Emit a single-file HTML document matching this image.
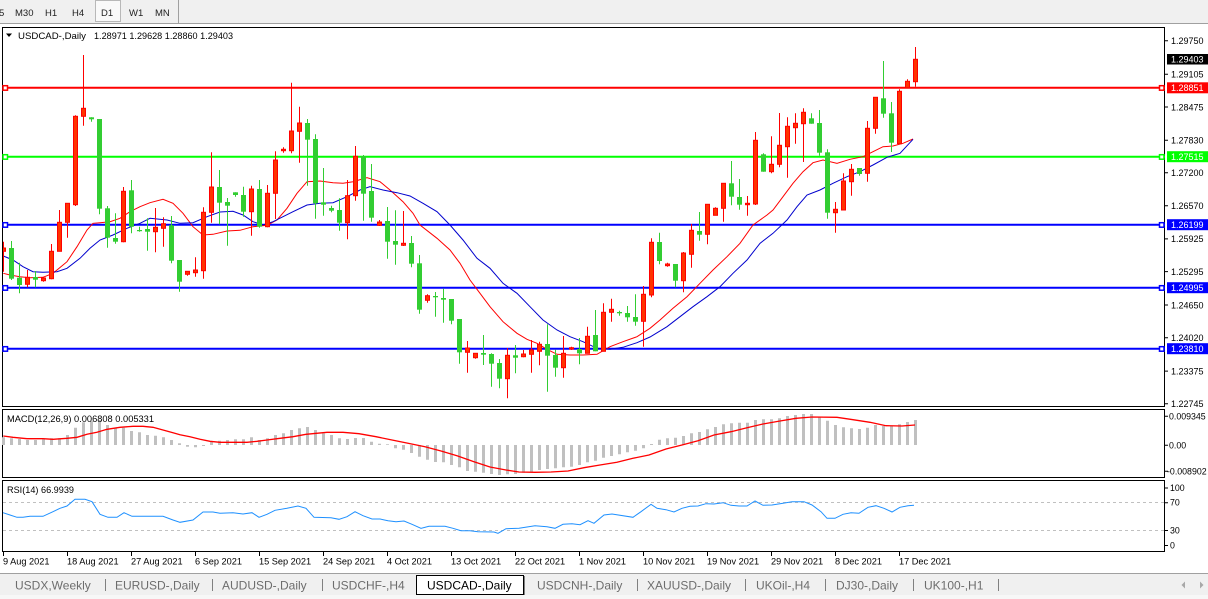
<!DOCTYPE html>
<html><head><meta charset="utf-8"><style>
html,body{margin:0;padding:0;background:#fff;width:1208px;height:599px;overflow:hidden}
svg{display:block;font-family:"Liberation Sans",Arial,sans-serif}
</style></head><body>
<svg width="1208" height="599" viewBox="0 0 1208 599" xmlns="http://www.w3.org/2000/svg">
<defs><clipPath id="cm"><rect x="3" y="28" width="1161" height="378"/></clipPath></defs>
<rect x="0" y="0" width="1208" height="599" fill="#fff"/>
<!-- toolbar -->
<rect x="0" y="0" width="1208" height="23" fill="#F0F0F0"/>
<line x1="0" y1="23.5" x2="1208" y2="23.5" stroke="#A0A0A0"/>
<rect x="95.5" y="0.5" width="25" height="21" fill="#F9F9F9" stroke="#B8B8B8"/>
<line x1="178.5" y1="0" x2="178.5" y2="23" stroke="#A0A0A0"/>
<g font-size="9.5" fill="#222">
<text x="-1" y="16">5</text><text x="15" y="16">M30</text><text x="45" y="16">H1</text><text x="72" y="16">H4</text><text x="101" y="16">D1</text><text x="129" y="16">W1</text><text x="155" y="16">MN</text>
</g>
<!-- frames -->
<rect x="2.5" y="27.5" width="1162" height="379" fill="none" stroke="#000"/>
<rect x="2.5" y="409.5" width="1162" height="68" fill="none" stroke="#000"/>
<rect x="2.5" y="480.5" width="1162" height="71" fill="none" stroke="#000"/>
<!-- header -->
<polygon points="6,33.5 12,33.5 9,37" fill="#000"/>
<text x="18" y="39" font-size="9.5" fill="#000" textLength="68" lengthAdjust="spacingAndGlyphs">USDCAD-,Daily</text>
<text x="94" y="39" font-size="9.5" fill="#000" textLength="139" lengthAdjust="spacingAndGlyphs">1.28971 1.29628 1.28860 1.29403</text>
<!-- horizontal lines -->
<g stroke-width="2">
<line x1="3" y1="87.7" x2="1165" y2="87.7" stroke="#FF0000"/>
<line x1="3" y1="156.7" x2="1165" y2="156.7" stroke="#00FF00"/>
<line x1="3" y1="224.7" x2="1165" y2="224.7" stroke="#0000FF"/>
<line x1="3" y1="287.7" x2="1165" y2="287.7" stroke="#0000FF"/>
<line x1="3" y1="348.7" x2="1165" y2="348.7" stroke="#0000FF"/>
</g>
<g fill="#fff" stroke-width="1.5">
<rect x="3" y="85.7" width="4.5" height="4.5" stroke="#FF0000"/><rect x="1159.5" y="85.7" width="4.5" height="4.5" stroke="#FF0000"/>
<rect x="3" y="154.7" width="4.5" height="4.5" stroke="#00FF00"/><rect x="1159.5" y="154.7" width="4.5" height="4.5" stroke="#00FF00"/>
<rect x="3" y="222.7" width="4.5" height="4.5" stroke="#0000FF"/><rect x="1159.5" y="222.7" width="4.5" height="4.5" stroke="#0000FF"/>
<rect x="3" y="285.7" width="4.5" height="4.5" stroke="#0000FF"/><rect x="1159.5" y="285.7" width="4.5" height="4.5" stroke="#0000FF"/>
<rect x="3" y="346.7" width="4.5" height="4.5" stroke="#0000FF"/><rect x="1159.5" y="346.7" width="4.5" height="4.5" stroke="#0000FF"/>
</g>
<g clip-path="url(#cm)">
<!-- MAs -->
<polyline fill="none" stroke="#FF0000" stroke-width="1" points="3.3,273.3 10,275 20,276.7 30,277.7 43,277.3 53,273.3 67,261.7 77,246.7 87,230 93,223.3 100,222.7 110,221.7 120,218.3 130,211.7 140,206.7 150,202.7 163,199.3 173,203.3 183,213.3 193,226.7 203,235 213,234.3 227,231 240,230.3 253,226.7 267,225.3 277,220 287,208.3 297,193.3 307,181.7 320,181 333,182.7 343,183.3 353,181.7 367,177.7 380,181.7 390,190 403,201.7 413,213.3 420,225 437,238.3 450,250 460,263.3 470,280 480,293.3 490,306.7 503,321.7 517,333.3 527,339.3 537,343.3 547,349.3 557,354.3 570,355 583,355 597,354.3 610,346.7 623,341.7 637,336.7 650,328.3 660,320 673,308.3 687,296.7 700,283.3 713,270 727,256.7 740,243.3 753,225 767,215 773,210 783,196.7 793,183.3 803,171.7 813,162.7 823,160 837,163.3 850,159.3 863,156.7 873,151.7 883,146.7 893,146 903,143.3 913,139"/>
<polyline fill="none" stroke="#0000CD" stroke-width="1" points="3.3,256 13,260 23,266.7 33,271.7 43,272.3 57,271.7 67,268.3 80,258.3 90,248.3 100,240 113,235 127,228.3 140,223.3 150,218.3 167,220 180,223.3 193,222.7 207,216.7 220,212 233,211.3 243,215 253,221.7 263,225 273,221.7 283,216.7 293,211.7 307,205 320,203.3 333,202.7 347,196.7 360,190 370,186.7 383,190 397,192.7 410,196 423,203.3 437,211.7 450,225 463,240 477,258.3 490,268.3 503,283.3 517,293.3 530,306.7 543,320 557,330 570,336.7 583,341.7 597,348.3 610,349.3 623,347.3 637,342.7 650,337 667,326.7 680,316.7 693,306.7 707,296.7 720,286.7 733,273.3 747,260 760,243.3 773,233.3 787,220 797,206.7 807,195 820,190 833,183.3 847,176.7 860,171.7 873,165 887,157.3 900,153.3 913,139.3"/>
<!-- red wicks -->
<path fill="none" stroke="#FF0000" stroke-width="1" d="M3.5 241.7V271.7M27.5 270V287.3M43.5 276.7V281.7M51.5 244V279.3M59.5 210V251.3M67.5 203.3V237.7M75.5 115.3V206M83.5 55V125.7M123.5 187V242.3M155.5 208V252.3M163.5 217.3V246.7M187.5 271.3V275.7M195.5 257.3V276.7M203.5 207.3V278.7M211.5 152.3V222.7M251.5 185.7V235.7M267.5 185V227.3M275.5 151.3V219M283.5 147.3V152.7M291.5 82.7V153.3M299.5 106.7V162.7M347.5 180V239.3M355.5 146V200.7M379.5 220V226M403.5 211V246M427.5 294.3V302.7M467.5 341V372.7M475.5 353.3V358.7M507.5 348V398.3M523.5 350V357.3M531.5 340V372.7M539.5 341.7V365.3M563.5 336V377.7M571.5 346.7V350M587.5 326.7V353.3M603.5 303.3V351.3M611.5 298.7V321.7M643.5 286V346.7M651.5 238.3V297.3M667.5 262.7V266.7M683.5 252V292.3M691.5 224V267.7M707.5 204.3V244.3M715.5 207.3V215.3M723.5 183.3V221.7M747.5 196V215.7M755.5 132V205M771.5 136.3V173.3M779.5 113V167.3M787.5 117.3V177.7M795.5 113.3V143.7M803.5 108.3V162M835.5 202V232.7M843.5 173.3V210M851.5 164V195.7M867.5 121V181.7M875.5 97.3V133.7M899.5 89.3V143.7M907.5 79.3V87.7M915.5 47V86.7"/>
<!-- green wicks -->
<path fill="none" stroke="#32CD32" stroke-width="1" d="M11.5 241V280M19.5 262.7V293.3M35.5 271V287.3M91.5 117.3V121.7M99.5 119V214.3M107.5 206V247.7M115.5 213.3V243.7M131.5 180V233.3M139.5 226.7V231.7M147.5 218.3V250.7M171.5 216V263.3M179.5 260V291.7M219.5 170V224.3M227.5 198V245.7M235.5 192.3V196.7M243.5 186.7V216.7M259.5 180V227.7M307.5 119V185.7M315.5 134.3V218.7M323.5 168V215.7M331.5 205.7V212.3M339.5 198.3V230.7M363.5 155V220.7M371.5 164V221.7M387.5 207V258.7M395.5 210.3V264.7M411.5 236V267.3M419.5 255V313.7M435.5 292V316.7M443.5 288.7V322.7M451.5 299V324.3M459.5 319V363.7M483.5 335V365M491.5 353.3V386.7M499.5 359V388.3M515.5 345V373.3M547.5 324.3V391.7M555.5 349.7V376.7M579.5 338V364.3M595.5 310V351.3M619.5 310.7V315.7M627.5 306V321.7M635.5 294.3V325.7M659.5 232.7V264.3M675.5 264V287.3M699.5 212V240.7M731.5 161V205.3M739.5 179V209.7M763.5 153.3V171.7M811.5 113.3V123.7M819.5 110V155.7M827.5 149.3V218.7M859.5 168V175.7M883.5 61V117.7M891.5 102V152"/>
<!-- red bodies -->
<g fill="#FF3300" stroke="#FF0000" stroke-width="1">
<rect x="1.5" y="248" width="4" height="3.3"/><rect x="25.5" y="277.3" width="4" height="7"/><rect x="41.5" y="278" width="4" height="2.7"/><rect x="49.5" y="251.3" width="4" height="27.4"/><rect x="57.5" y="222.3" width="4" height="29"/><rect x="65.5" y="203.3" width="4" height="19"/><rect x="73.5" y="116.3" width="4" height="88.4"/><rect x="81.5" y="108.3" width="4" height="8"/><rect x="121.5" y="191.3" width="4" height="50.4"/><rect x="153.5" y="227.3" width="4" height="4.4"/><rect x="161.5" y="223.7" width="4" height="4.6"/><rect x="185.5" y="271.3" width="4" height="3"/><rect x="193.5" y="270" width="4" height="2.7"/><rect x="201.5" y="212.3" width="4" height="58.4"/><rect x="209.5" y="187" width="4" height="25.3"/><rect x="249.5" y="189" width="4" height="22.7"/><rect x="265.5" y="193.3" width="4" height="33.4"/><rect x="273.5" y="160" width="4" height="33.3"/><rect x="281.5" y="149.3" width="4" height="1.4"/><rect x="289.5" y="131" width="4" height="19.7"/><rect x="297.5" y="123" width="4" height="8.3"/><rect x="345.5" y="195.7" width="4" height="27"/><rect x="353.5" y="156.3" width="4" height="39.4"/><rect x="377.5" y="222" width="4" height="3.3"/><rect x="401.5" y="243.3" width="4" height="2"/><rect x="425.5" y="295.7" width="4" height="4.6"/><rect x="465.5" y="348" width="4" height="4.3"/><rect x="473.5" y="353.3" width="4" height="4.4"/><rect x="505.5" y="355.3" width="4" height="23.4"/><rect x="521.5" y="354" width="4" height="2.7"/><rect x="529.5" y="350" width="4" height="4.3"/><rect x="537.5" y="344.3" width="4" height="7"/><rect x="561.5" y="353.3" width="4" height="14.4"/><rect x="569.5" y="347.7" width="4" height="1.3"/><rect x="585.5" y="336.3" width="4" height="17"/><rect x="601.5" y="312.3" width="4" height="39"/><rect x="609.5" y="309.3" width="4" height="3"/><rect x="641.5" y="294.3" width="4" height="27"/><rect x="649.5" y="242.3" width="4" height="52.7"/><rect x="665.5" y="264" width="4" height="1.7"/><rect x="681.5" y="253" width="4" height="27.7"/><rect x="689.5" y="230.3" width="4" height="24"/><rect x="705.5" y="204.3" width="4" height="30"/><rect x="713.5" y="208.3" width="4" height="7"/><rect x="721.5" y="183.3" width="4" height="25"/><rect x="745.5" y="203.3" width="4" height="1.4"/><rect x="753.5" y="140.3" width="4" height="63.7"/><rect x="769.5" y="164.3" width="4" height="7.4"/><rect x="777.5" y="145.3" width="4" height="19"/><rect x="785.5" y="126.3" width="4" height="20.4"/><rect x="793.5" y="123.3" width="4" height="4.4"/><rect x="801.5" y="112.3" width="4" height="11.4"/><rect x="833.5" y="209.3" width="4" height="3.4"/><rect x="841.5" y="181" width="4" height="29"/><rect x="849.5" y="169.3" width="4" height="12.4"/><rect x="865.5" y="128.3" width="4" height="45"/><rect x="873.5" y="97.3" width="4" height="31"/><rect x="897.5" y="91.3" width="4" height="52.4"/><rect x="905.5" y="81.3" width="4" height="6.4"/><rect x="913.5" y="59.3" width="4" height="22.4"/>
</g>
<!-- green bodies -->
<g fill="#32CD32">
<rect x="9" y="248" width="5" height="30.7"/><rect x="17" y="277.7" width="5" height="7.3"/><rect x="33" y="277" width="5" height="2.7"/><rect x="89" y="117.3" width="5" height="2"/><rect x="97" y="119" width="5" height="89.7"/><rect x="105" y="208.3" width="5" height="29.4"/><rect x="113" y="238" width="5" height="3.7"/><rect x="129" y="190.3" width="5" height="36.4"/><rect x="137" y="230" width="5" height="1.2"/><rect x="145" y="229" width="5" height="2.7"/><rect x="169" y="225.3" width="5" height="35.4"/><rect x="177" y="260" width="5" height="21.7"/><rect x="217" y="187" width="5" height="15.7"/><rect x="225" y="202" width="5" height="3.7"/><rect x="233" y="192.3" width="5" height="2.7"/><rect x="241" y="195" width="5" height="16.7"/><rect x="257" y="189" width="5" height="37.7"/><rect x="305" y="123" width="5" height="16.7"/><rect x="313" y="139" width="5" height="64.3"/><rect x="321" y="202.3" width="5" height="2.4"/><rect x="329" y="208" width="5" height="2.7"/><rect x="337" y="210" width="5" height="12.7"/><rect x="361" y="156.3" width="5" height="37.4"/><rect x="369" y="191" width="5" height="26.7"/><rect x="385" y="221" width="5" height="20.7"/><rect x="393" y="241" width="5" height="3.7"/><rect x="409" y="243" width="5" height="20.7"/><rect x="417" y="263.3" width="5" height="46.4"/><rect x="433" y="296" width="5" height="1.3"/><rect x="441" y="298" width="5" height="1.7"/><rect x="449" y="299" width="5" height="21.7"/><rect x="457" y="319" width="5" height="33.3"/><rect x="481" y="353" width="5" height="1.7"/><rect x="489" y="354" width="5" height="9.7"/><rect x="497" y="363" width="5" height="15.7"/><rect x="513" y="355.3" width="5" height="2.4"/><rect x="545" y="344" width="5" height="11.7"/><rect x="553" y="355" width="5" height="12.7"/><rect x="577" y="349" width="5" height="4.3"/><rect x="593" y="335" width="5" height="16.3"/><rect x="617" y="312" width="5" height="1.3"/><rect x="625" y="313" width="5" height="4.3"/><rect x="633" y="317" width="5" height="4.7"/><rect x="657" y="242" width="5" height="19"/><rect x="673" y="264" width="5" height="16.7"/><rect x="697" y="231" width="5" height="3.7"/><rect x="729" y="183.3" width="5" height="13.4"/><rect x="737" y="197" width="5" height="7.7"/><rect x="761" y="154.3" width="5" height="17.4"/><rect x="809" y="118.3" width="5" height="5.4"/><rect x="817" y="123" width="5" height="29.7"/><rect x="825" y="152.3" width="5" height="60.4"/><rect x="857" y="168" width="5" height="6"/><rect x="881" y="98.3" width="5" height="15.4"/><rect x="889" y="113.3" width="5" height="29.4"/>
</g>
</g>
<!-- right price axis -->
<g stroke="#000" stroke-width="1">
<path d="M1165 40.7h3M1165 74.3h3M1165 107h3M1165 140.3h3M1165 172.8h3M1165 205.8h3M1165 238.9h3M1165 271.6h3M1165 305h3M1165 337.7h3M1165 371.1h3M1165 403.7h3"/>
<path d="M1165 416.3h3M1165 445.3h3M1165 471.3h3M1165 488h3M1165 502.7h3M1165 530.5h3M1165 545.5h3"/>
</g>
<g font-size="9" fill="#000">
<text x="1171" y="44">1.29750</text><text x="1171" y="77.5">1.29105</text><text x="1171" y="110.3">1.28475</text><text x="1171" y="143.6">1.27830</text><text x="1171" y="176.1">1.27200</text><text x="1171" y="209">1.26570</text><text x="1171" y="242.2">1.25925</text><text x="1171" y="274.9">1.25295</text><text x="1171" y="308.3">1.24650</text><text x="1171" y="341">1.24020</text><text x="1171" y="374.4">1.23375</text><text x="1171" y="407">1.22745</text>
</g>
<rect x="1167" y="54" width="41" height="10.5" fill="#000"/>
<rect x="1167" y="82.3" width="41" height="11" fill="#FF0000"/>
<rect x="1167" y="151.2" width="41" height="11" fill="#00FF00"/>
<rect x="1167" y="219.2" width="41" height="11" fill="#0000FF"/>
<rect x="1167" y="282.2" width="41" height="11" fill="#0000FF"/>
<rect x="1167" y="343.2" width="41" height="11" fill="#0000FF"/>
<g font-size="9" fill="#fff">
<text x="1171" y="62.5">1.29403</text><text x="1171" y="91">1.28851</text><text x="1171" y="160">1.27515</text><text x="1171" y="228">1.26199</text><text x="1171" y="291">1.24995</text><text x="1171" y="352">1.23810</text>
</g>
<!-- MACD -->
<path fill="#C0C0C0" d="M2 445V437.3h3V445zM10 445V438.3h3V445zM18 445V439h3V445zM26 445V440h3V445zM34 445V440h3V445zM42 445V439.3h3V445zM50 445V438.3h3V445zM58 445V438.3h3V445zM66 445V435h3V445zM74 445V427.7h3V445zM82 445V422.3h3V445zM90 445V420.7h3V445zM98 445V420h3V445zM106 445V425h3V445zM114 445V428.3h3V445zM122 445V427.7h3V445zM130 445V431h3V445zM138 445V432.3h3V445zM146 445V435h3V445zM154 445V435.7h3V445zM162 445V437.3h3V445zM170 445V440h3V445zM178 445V443.3h3V445zM186 445V446.7h3V445zM194 445V447.3h3V445zM202 445V446h3V445zM210 445V441.7h3V445zM218 445V440.7h3V445zM226 445V440h3V445zM234 445V439.3h3V445zM242 445V439.3h3V445zM250 445V437.3h3V445zM258 445V440h3V445zM266 445V438.3h3V445zM274 445V435h3V445zM282 445V433.3h3V445zM290 445V430h3V445zM298 445V428.3h3V445zM306 445V427h3V445zM314 445V430h3V445zM322 445V433.3h3V445zM330 445V435h3V445zM338 445V438.3h3V445zM346 445V439h3V445zM354 445V438h3V445zM362 445V438h3V445zM370 445V441.7h3V445zM378 445V443.7h3V445zM386 445V444.3h3V445zM394 445V448.3h3V445zM402 445V449.7h3V445zM410 445V453h3V445zM418 445V456.7h3V445zM426 445V459.7h3V445zM434 445V462h3V445zM442 445V462.3h3V445zM450 445V465h3V445zM458 445V467.3h3V445zM466 445V471h3V445zM474 445V471.7h3V445zM482 445V472.7h3V445zM490 445V474h3V445zM498 445V475h3V445zM506 445V474.3h3V445zM514 445V474h3V445zM522 445V472.7h3V445zM530 445V471.7h3V445zM538 445V470h3V445zM546 445V469h3V445zM554 445V468.3h3V445zM562 445V467.3h3V445zM570 445V466.7h3V445zM578 445V465h3V445zM586 445V462.3h3V445zM594 445V460.7h3V445zM602 445V457.7h3V445zM610 445V456h3V445zM618 445V454.3h3V445zM626 445V452.3h3V445zM634 445V450.7h3V445zM642 445V448.3h3V445zM650 445V444h3V445zM658 445V439.7h3V445zM666 445V438.3h3V445zM674 445V437.7h3V445zM682 445V436h3V445zM690 445V433.3h3V445zM698 445V432h3V445zM706 445V429.3h3V445zM714 445V427h3V445zM722 445V424.3h3V445zM730 445V423.3h3V445zM738 445V422.7h3V445zM746 445V422.7h3V445zM754 445V420h3V445zM762 445V419.3h3V445zM770 445V419.3h3V445zM778 445V418.3h3V445zM786 445V416h3V445zM794 445V415h3V445zM802 445V414h3V445zM810 445V414h3V445zM818 445V416.7h3V445zM826 445V420.7h3V445zM834 445V425h3V445zM842 445V427.3h3V445zM850 445V428.3h3V445zM858 445V429h3V445zM866 445V427.7h3V445zM874 445V425h3V445zM882 445V426h3V445zM890 445V426h3V445zM898 445V424.3h3V445zM906 445V422h3V445zM914 445V420h3V445z"/>
<polyline fill="none" stroke="#FF0000" stroke-width="1.3" points="3.3,436 13,437.3 27,438.7 43,438.7 53,439.3 67,438.3 77,437.3 87,434.3 97,432.3 107,429.3 120,427.3 133,426.3 143,426.3 153,427.3 163,430 173,432.7 180,434.7 190,436.7 200,439.3 210,441.3 220,442.3 233,442.3 247,442.3 257,441.3 267,440 280,438.3 293,436.7 306,434.3 327,432.3 343,432.3 359,433.7 376,436.7 392,440 408,443.3 425,446.7 441,451 457,455.7 474,461.7 490,467 506,470 519,472 535,472.3 551,472 568,471 584,467.7 600,465 617,462.3 633,458.3 649,455 666,449 682,445 698,440.7 714,435 731,431.7 747,427.7 763,424 780,421 796,418.3 812,417 837,417.3 853,419.7 870,422.3 886,425.7 902,426 915,425"/>
<text x="7" y="422" font-size="9.3" fill="#000" textLength="147" lengthAdjust="spacingAndGlyphs">MACD(12,26,9) 0.006808 0.005331</text>
<g font-size="8.8" fill="#000">
<text x="1169" y="419.5">0.009345</text><text x="1169" y="448.5">0.00</text><text x="1167" y="474.5">-0.008902</text>
</g>
<!-- RSI -->
<g stroke="#C0C0C0" stroke-width="1" stroke-dasharray="3,3">
<line x1="3" y1="502.5" x2="1164" y2="502.5"/><line x1="3" y1="530.5" x2="1164" y2="530.5"/>
</g>
<polyline fill="none" stroke="#1E90FF" stroke-width="1" points="3,512.7 10,515 17,517.3 23,517.3 30,516.3 43,516.3 53,511.7 60,508.3 67,506 75,499.3 85,499.3 92,501.7 100,514.3 108,517.3 117,517.3 124,512.7 132,516.3 140,516.3 163,516.3 173,520 180,522.3 193,520 203,512 213,512 220,513.3 233,512.7 243,514 252,512.7 259,517.3 267,514.3 275,510.3 287,508.3 298,506 306,508.3 314,517.3 331,517.7 339,519.3 347,516.7 355,511.7 363,515.7 372,519 380,519 388,520.7 396,521.7 404,521 412,524.3 421,528.3 429,526.3 445,526.3 453,528.3 461,530.7 470,530.7 478,531.7 494,532 498,533.3 506,528.7 519,528.3 527,527 535,525.7 547,526.7 555,528.3 563,524.3 572,523.7 580,524.7 588,520.7 594,523.3 604,515 612,514 633,517.3 641,511.7 651,504.3 657,508.3 666,509.7 674,512 682,508.3 690,506.3 698,506 706,503.7 714,504 723,502.7 731,505.3 739,506 747,506 755,501 763,505.3 772,505 780,503.7 792,501.7 804,501.7 812,505 821,511.7 827,518.3 835,518.3 843,514.3 851,512.7 859,513.3 868,507.3 876,505.7 884,508.3 892,512 900,507.3 908,505.7 914,505.3"/>
<text x="7" y="493" font-size="9.3" fill="#000" textLength="67" lengthAdjust="spacingAndGlyphs">RSI(14) 66.9939</text>
<g font-size="8.8" fill="#000">
<text x="1170" y="491">100</text><text x="1170" y="505.7">70</text><text x="1170" y="533.5">30</text><text x="1170" y="548.5">0</text>
</g>
<!-- date axis -->
<path stroke="#000" stroke-width="1" d="M3.5 552v4M67.5 552v4M131.5 552v4M195.5 552v4M259.5 552v4M323.5 552v4M387.5 552v4M451.5 552v4M515.5 552v4M579.5 552v4M643.5 552v4M707.5 552v4M771.5 552v4M835.5 552v4M899.5 552v4"/>
<g font-size="9.2" fill="#000">
<text x="3" y="564.5">9 Aug 2021</text><text x="67" y="564.5">18 Aug 2021</text><text x="131" y="564.5">27 Aug 2021</text><text x="195" y="564.5">6 Sep 2021</text><text x="259" y="564.5">15 Sep 2021</text><text x="323" y="564.5">24 Sep 2021</text><text x="387" y="564.5">4 Oct 2021</text><text x="451" y="564.5">13 Oct 2021</text><text x="515" y="564.5">22 Oct 2021</text><text x="579" y="564.5">1 Nov 2021</text><text x="643" y="564.5">10 Nov 2021</text><text x="707" y="564.5">19 Nov 2021</text><text x="771" y="564.5">29 Nov 2021</text><text x="835" y="564.5">8 Dec 2021</text><text x="899" y="564.5">17 Dec 2021</text>
</g>
<!-- tab bar -->
<line x1="0" y1="573.5" x2="1208" y2="573.5" stroke="#A0A0A0"/>
<rect x="0" y="574" width="1208" height="21" fill="#F0F0F0"/>
<rect x="0" y="595" width="1208" height="4" fill="#F7F7F7"/>
<rect x="416.5" y="575.5" width="107" height="19" fill="#fff" stroke="#000"/>
<line x1="524.5" y1="576" x2="524.5" y2="595" stroke="#808080"/>
<g stroke="#808080" stroke-width="1">
<path d="M105.5 579v12M212.5 579v12M322.5 579v12M637.5 579v12M745.5 579v12M825.5 579v12M913.5 579v12M998.5 579v12"/>
</g>
<g font-size="12" fill="#6D6D6D">
<text x="15" y="589.5">USDX,Weekly</text><text x="115" y="589.5">EURUSD-,Daily</text><text x="222" y="589.5">AUDUSD-,Daily</text><text x="332" y="589.5">USDCHF-,H4</text><text x="537" y="589.5">USDCNH-,Daily</text><text x="647" y="589.5">XAUUSD-,Daily</text><text x="756" y="589.5">UKOil-,H4</text><text x="836" y="589.5">DJ30-,Daily</text><text x="924" y="589.5">UK100-,H1</text>
</g>
<text x="427" y="589.5" font-size="12" fill="#000">USDCAD-,Daily</text>
<polygon points="1185,581.5 1185,588.5 1181.5,585" fill="#A8A8A8"/>
<polygon points="1200,581.5 1200,588.5 1203.5,585" fill="#A8A8A8"/>
</svg>
</body></html>
